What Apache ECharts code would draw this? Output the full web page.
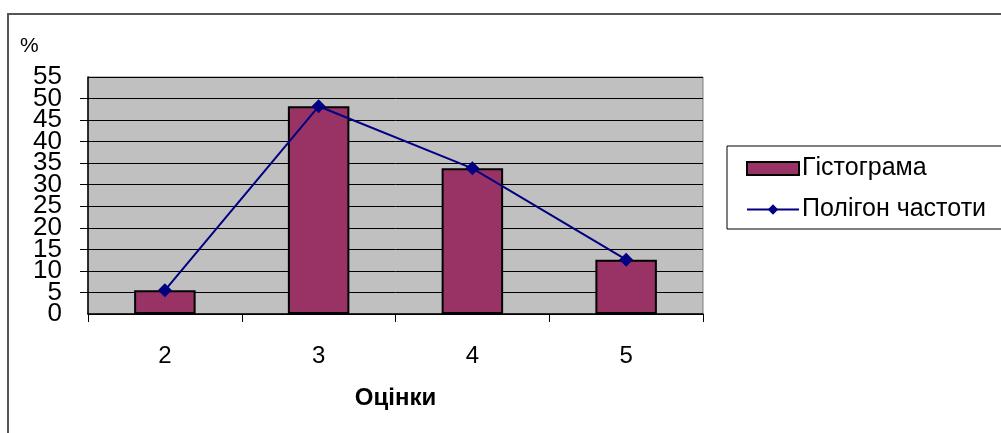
<!DOCTYPE html>
<html>
<head>
<meta charset="utf-8">
<script src="https://cdn.jsdelivr.net/npm/echarts@6/dist/echarts.min.js"></script>
<style>
html,body{margin:0;padding:0;background:#fff;}
#chart{width:1001px;height:433px;}
</style>
</head>
<body>
<div id="chart"></div>
<script>
const categories = ['2', '3', '4', '5'];
const histValues = [5.5, 48.2, 33.8, 12.6];
const polygonValues = [5.5, 48.2, 33.8, 12.6];
const seriesNames = ['Гістограма', 'Полігон частоти'];
const xTitle = 'Оцінки';
const yUnit = '%';
const yMin = 0, yMax = 55, yStep = 5;

const FONT = "'Liberation Sans', Arial, sans-serif";
const yLabelStyle = {fontFamily: FONT, fontSize: 26, lineHeight: 20, color: '#000', margin: 26};
const chart = echarts.init(document.getElementById('chart'), null, {renderer: 'canvas'});
chart.setOption({
  backgroundColor: '#fff',
  animation: false,
  graphic: [
    {type: 'rect', shape: {x: 8, y: 14, width: 1100, height: 500}, style: {fill: 'none', stroke: '#555', lineWidth: 2}, silent: true},
    {type: 'rect', shape: {x: 727, y: 146, width: 300, height: 83}, style: {fill: '#fff', stroke: '#000', lineWidth: 1}, silent: true, z: 0},
    {type: 'text', x: 20, y: 36, style: {text: yUnit, fontSize: 21, fontFamily: FONT, fill: '#000'}}
  ],
  legend: {
    orient: 'vertical',
    left: 746,
    top: 155,
    padding: 0,
    itemWidth: 52,
    itemHeight: 13,
    itemGap: 14,
    textStyle: {fontFamily: FONT, fontSize: 25, lineHeight: 27, color: '#000', padding: [0, 0, 0, -2]},
    data: [{name: seriesNames[0], icon: 'rect'}, {name: seriesNames[1]}]
  },
  grid: {
    left: 88, right: 298, top: 77, bottom: 119,
    show: true, backgroundColor: '#c0c0c0', borderColor: '#808080', borderWidth: 1
  },
  xAxis: {
    type: 'category',
    data: categories,
    boundaryGap: true,
    axisLine: {lineStyle: {color: '#000', width: 1.5}},
    axisTick: {show: true, length: 8, lineStyle: {color: '#000'}},
    axisLabel: {fontFamily: FONT, fontSize: 24, color: '#000', margin: 30},
    name: xTitle,
    nameLocation: 'middle',
    nameGap: 72,
    nameTextStyle: {fontFamily: FONT, fontSize: 24, fontWeight: 'bold', color: '#000'}
  },
  yAxis: [
    {
      type: 'value',
      min: yMin, max: yMax, interval: yStep,
      position: 'left', offset: 0,
      axisLine: {show: true, lineStyle: {color: '#000', width: 1.5}},
      axisTick: {show: true, length: 8, lineStyle: {color: '#000'}},
      axisLabel: Object.assign({}, yLabelStyle, {
        showMinLabel: false, showMaxLabel: false,
        formatter: function (v) { return (v === yMin || v === yMax) ? '' : String(v); }
      }),
      splitLine: {show: true, lineStyle: {color: '#000', width: 1}}
    },
    {
      type: 'value',
      min: yMin, max: yMax, interval: yStep,
      position: 'left', offset: 0,
      axisLine: {show: false},
      axisTick: {show: false},
      splitLine: {show: false},
      axisLabel: Object.assign({}, yLabelStyle, {
        showMinLabel: true, showMaxLabel: true,
        formatter: function (v) { return (v === yMin || v === yMax) ? String(v) : ''; }
      })
    }
  ],
  series: [
    {
      name: seriesNames[0],
      type: 'bar',
      data: histValues,
      barWidth: '40%',
      itemStyle: {color: '#993366', borderColor: '#000', borderWidth: 2}
    },
    {
      name: seriesNames[1],
      type: 'line',
      data: polygonValues,
      symbol: 'diamond',
      symbolSize: 14,
      lineStyle: {color: '#000080', width: 2},
      itemStyle: {color: '#000080'}
    }
  ]
});
</script>
</body>
</html>
